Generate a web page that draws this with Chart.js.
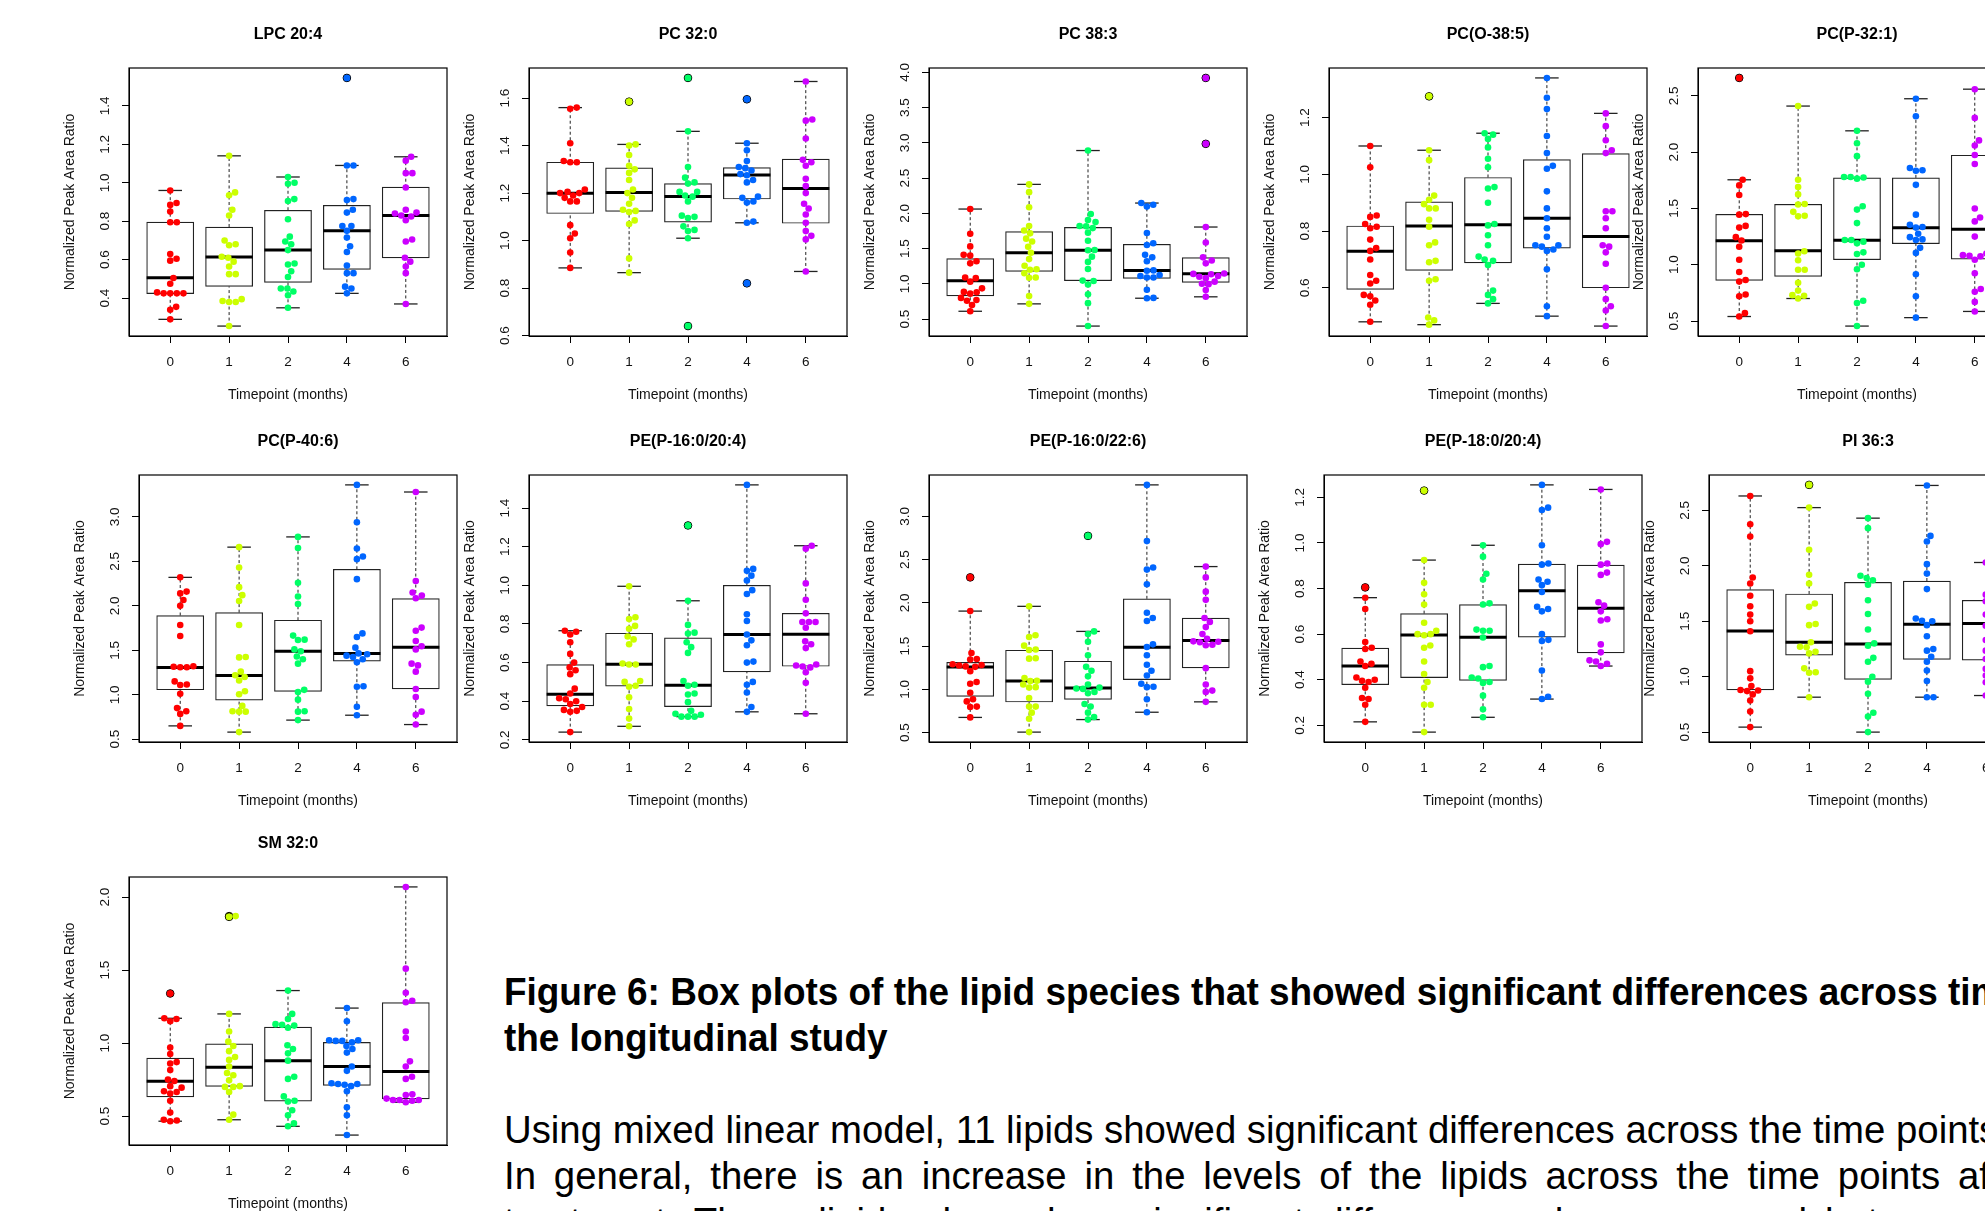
<!DOCTYPE html>
<html lang="en">
<head>
<meta charset="UTF-8">
<title>Figure 6 - lipid species box plots</title>
<script src="https://cdn.jsdelivr.net/npm/chart.js"></script>
<style>
    body {
        margin: 0;
        background: #fff;
    }
    #page {
        position: relative;
        width: 1985px;
        height: 1211px;
        overflow: hidden;
        background: #fff;
    }
    #page canvas {
        position: absolute;
    }
    .text {
        position: absolute;
        left: 504px;
        white-space: nowrap;
        font-family: "Liberation Sans", Arial, sans-serif;
        font-size: 38px;
        line-height: 46px;
        color: #000;
        transform-origin: 0 0;
    }
    .caption {
        font-weight: bold;
    }
</style>
</head>
<body>
<div id="page">
    <div class="text caption" id="cap1" style="top:969px"><span>Figure 6: Box plots of the lipid species that showed significant differences across </span>time points in</div>
    <div class="text caption" id="cap2" style="top:1015px">the longitudinal study</div>
    <div class="text" id="body1" style="top:1107px"><span>Using mixed linear model, 11 lipids showed significant differences across the time </span>points.</div>
    <div class="text" id="body2" style="top:1153px"><span>In general, there is an increase in the levels of the lipids across the time points </span>after</div>
    <div class="text" id="body3" style="top:1199px">treatment. These lipids showed no significant differences when compared between the</div>
</div>

<script>
    const timepoints = ['0', '1', '2', '4', '6'];
    const groupColors = ['#FF0000', '#CCFF00', '#00FF66', '#0066FF', '#CC00FF'];

    const lipidNames = ['LPC 20:4', 'PC 32:0', 'PC 38:3', 'PC(O-38:5)', 'PC(P-32:1)',
        'PC(P-40:6)', 'PE(P-16:0/20:4)', 'PE(P-16:0/22:6)', 'PE(P-18:0/20:4)', 'PI 36:3', 'SM 32:0'];
    const tickSteps = [0.2, 0.2, 0.5, 0.2, 0.5, 0.5, 0.2, 0.5, 0.2, 0.5, 0.5];

    // points: one list per timepoint (0, 1, 2, 4, 6 months)
    // boxes: [lower whisker, Q1, median, Q3, upper whisker] per timepoint
    const lpc204 = [
        [0.96, 0.895, 0.885, 0.85, 0.795, 0.795, 0.63, 0.605, 0.595, 0.505, 0.475, 0.43, 0.425, 0.425, 0.425, 0.425, 0.355, 0.34, 0.29],
        [1.14, 0.95, 0.935, 0.86, 0.83, 0.70, 0.68, 0.675, 0.615, 0.61, 0.59, 0.565, 0.525, 0.525, 0.395, 0.385, 0.38, 0.38, 0.255],
        [1.03, 1.0, 0.995, 0.915, 0.905, 0.81, 0.72, 0.695, 0.68, 0.65, 0.58, 0.575, 0.54, 0.51, 0.45, 0.45, 0.435, 0.415, 0.35],
        [1.545, 1.09, 1.09, 0.915, 0.91, 0.86, 0.845, 0.775, 0.775, 0.75, 0.715, 0.67, 0.64, 0.57, 0.53, 0.53, 0.46, 0.45, 0.425],
        [1.135, 1.115, 1.05, 1.05, 0.975, 0.86, 0.845, 0.84, 0.83, 0.825, 0.805, 0.705, 0.695, 0.61, 0.59, 0.565, 0.53, 0.37]
    ];
    const lpc204Box = [
        [0.29, 0.424, 0.506, 0.795, 0.96],
        [0.255, 0.461, 0.614, 0.77, 1.14],
        [0.35, 0.482, 0.65, 0.857, 1.03],
        [0.425, 0.55, 0.75, 0.883, 1.09],
        [0.37, 0.609, 0.83, 0.977, 1.135]
    ];

    const pc320 = [
        [1.56, 1.555, 1.41, 1.335, 1.33, 1.33, 1.215, 1.205, 1.2, 1.2, 1.19, 1.18, 1.165, 1.165, 1.065, 1.03, 1.01, 0.95, 0.885],
        [1.585, 1.405, 1.40, 1.36, 1.315, 1.30, 1.285, 1.255, 1.215, 1.20, 1.18, 1.155, 1.13, 1.125, 1.12, 1.085, 1.07, 0.925, 0.865],
        [1.685, 1.46, 1.31, 1.265, 1.245, 1.24, 1.205, 1.205, 1.19, 1.185, 1.165, 1.105, 1.10, 1.095, 1.06, 1.045, 1.04, 1.01, 0.64],
        [1.595, 1.41, 1.38, 1.335, 1.31, 1.305, 1.295, 1.28, 1.275, 1.255, 1.245, 1.185, 1.18, 1.165, 1.16, 1.08, 1.075, 0.82],
        [1.67, 1.51, 1.505, 1.43, 1.34, 1.33, 1.315, 1.26, 1.23, 1.2, 1.155, 1.135, 1.11, 1.075, 1.04, 1.02, 1.005, 0.87]
    ];
    const pc320Box = [
        [0.885, 1.114, 1.199, 1.33, 1.56],
        [0.865, 1.123, 1.203, 1.306, 1.405],
        [1.01, 1.078, 1.186, 1.24, 1.46],
        [1.075, 1.175, 1.276, 1.307, 1.41],
        [0.87, 1.073, 1.219, 1.343, 1.67]
    ];

    const pc383 = [
        [2.06, 1.71, 1.53, 1.41, 1.40, 1.32, 1.29, 1.09, 1.08, 1.03, 0.935, 0.885, 0.88, 0.86, 0.80, 0.77, 0.76, 0.70, 0.61],
        [2.41, 2.30, 2.085, 1.82, 1.755, 1.715, 1.64, 1.60, 1.525, 1.44, 1.35, 1.255, 1.205, 1.20, 1.15, 1.09, 1.085, 0.825, 0.715],
        [2.89, 1.99, 1.905, 1.875, 1.82, 1.815, 1.79, 1.725, 1.61, 1.48, 1.475, 1.385, 1.31, 1.21, 1.045, 1.04, 0.99, 0.85, 0.725, 0.40],
        [2.145, 2.12, 2.095, 1.72, 1.575, 1.55, 1.41, 1.375, 1.32, 1.19, 1.185, 1.125, 1.11, 1.09, 1.09, 0.915, 0.80, 0.795],
        [3.92, 2.985, 1.805, 1.585, 1.375, 1.33, 1.29, 1.145, 1.14, 1.135, 1.11, 1.10, 1.08, 1.03, 1.0, 0.995, 0.91, 0.815]
    ];
    const pc383Box = [
        [0.61, 0.829, 1.043, 1.356, 2.06],
        [0.715, 1.176, 1.441, 1.74, 2.41],
        [0.40, 1.043, 1.474, 1.80, 2.89],
        [0.795, 1.076, 1.19, 1.56, 2.145],
        [0.815, 1.019, 1.142, 1.37, 1.805]
    ];

    const pcO385 = [
        [1.10, 1.025, 0.855, 0.85, 0.825, 0.815, 0.81, 0.77, 0.74, 0.73, 0.70, 0.645, 0.625, 0.615, 0.575, 0.57, 0.555, 0.54, 0.48],
        [1.275, 1.085, 1.05, 0.925, 0.91, 0.895, 0.88, 0.88, 0.84, 0.815, 0.76, 0.75, 0.695, 0.69, 0.63, 0.625, 0.495, 0.485, 0.47],
        [1.145, 1.14, 1.125, 1.095, 1.055, 1.025, 0.955, 0.95, 0.90, 0.825, 0.82, 0.785, 0.75, 0.71, 0.70, 0.695, 0.68, 0.59, 0.575, 0.56, 0.545],
        [1.34, 1.27, 1.23, 1.135, 1.075, 1.03, 1.02, 0.94, 0.88, 0.845, 0.81, 0.78, 0.75, 0.75, 0.745, 0.735, 0.73, 0.665, 0.535, 0.50],
        [1.215, 1.17, 1.12, 1.085, 1.075, 0.87, 0.87, 0.845, 0.81, 0.75, 0.745, 0.725, 0.685, 0.60, 0.56, 0.535, 0.52, 0.465]
    ];
    const pcO385Box = [
        [0.48, 0.594, 0.729, 0.818, 1.10],
        [0.47, 0.661, 0.818, 0.903, 1.085],
        [0.545, 0.688, 0.822, 0.989, 1.145],
        [0.50, 0.74, 0.845, 1.052, 1.34],
        [0.465, 0.60, 0.781, 1.073, 1.215]
    ];

    const pcP321 = [
        [2.66, 1.755, 1.705, 1.62, 1.45, 1.445, 1.345, 1.33, 1.245, 1.215, 1.16, 1.045, 0.935, 0.865, 0.85, 0.735, 0.72, 0.57, 0.54],
        [2.41, 1.755, 1.69, 1.625, 1.54, 1.535, 1.47, 1.435, 1.43, 1.12, 1.10, 1.04, 0.955, 0.955, 0.84, 0.77, 0.73, 0.725, 0.70],
        [2.19, 2.08, 1.965, 1.78, 1.78, 1.775, 1.765, 1.52, 1.49, 1.37, 1.22, 1.22, 1.205, 1.19, 1.11, 1.095, 1.0, 0.96, 0.68, 0.66, 0.455],
        [2.475, 2.32, 1.86, 1.84, 1.835, 1.71, 1.445, 1.355, 1.335, 1.33, 1.275, 1.245, 1.225, 1.22, 1.15, 1.105, 0.915, 0.72, 0.53],
        [2.56, 2.305, 2.105, 2.06, 1.975, 1.895, 1.50, 1.42, 1.385, 1.25, 1.10, 1.085, 1.08, 1.075, 1.045, 0.925, 0.785, 0.76, 0.67, 0.585]
    ];
    const pcP321Box = [
        [0.54, 0.861, 1.214, 1.448, 1.755],
        [0.70, 0.896, 1.125, 1.537, 2.41],
        [0.455, 1.045, 1.217, 1.772, 2.19],
        [0.53, 1.187, 1.329, 1.772, 2.475],
        [0.585, 1.05, 1.315, 1.973, 2.56]
    ];

    const pcP406 = [
        [2.32, 2.16, 2.14, 2.065, 2.0, 1.785, 1.66, 1.32, 1.315, 1.31, 1.31, 1.15, 1.115, 1.11, 1.01, 0.85, 0.815, 0.785, 0.65],
        [2.66, 2.43, 2.21, 2.12, 2.055, 1.785, 1.425, 1.42, 1.26, 1.22, 1.20, 1.16, 1.04, 1.005, 0.875, 0.815, 0.81, 0.81, 0.58],
        [2.775, 2.65, 2.26, 2.105, 2.02, 1.665, 1.62, 1.615, 1.51, 1.49, 1.43, 1.40, 1.35, 1.055, 1.03, 0.945, 0.815, 0.81, 0.715],
        [3.36, 2.94, 2.645, 2.555, 2.525, 2.30, 1.69, 1.65, 1.53, 1.465, 1.455, 1.44, 1.425, 1.40, 1.365, 1.095, 1.09, 0.865, 0.77],
        [3.28, 2.28, 2.15, 2.115, 2.085, 1.755, 1.72, 1.605, 1.545, 1.51, 1.35, 1.33, 1.26, 1.065, 0.975, 0.81, 0.775, 0.665]
    ];
    const pcP406Box = [
        [0.65, 1.056, 1.307, 1.891, 2.32],
        [0.58, 0.94, 1.217, 1.924, 2.66],
        [0.715, 1.037, 1.49, 1.838, 2.775],
        [0.77, 1.378, 1.464, 2.411, 3.36],
        [0.665, 1.067, 1.535, 2.082, 3.28]
    ];

    const peP16204 = [
        [0.765, 0.76, 0.745, 0.705, 0.645, 0.60, 0.575, 0.56, 0.54, 0.465, 0.44, 0.415, 0.41, 0.40, 0.385, 0.37, 0.355, 0.35, 0.345, 0.24],
        [0.995, 0.835, 0.825, 0.79, 0.775, 0.735, 0.72, 0.695, 0.595, 0.59, 0.59, 0.505, 0.50, 0.48, 0.475, 0.42, 0.36, 0.31, 0.27],
        [1.31, 0.92, 0.795, 0.755, 0.75, 0.705, 0.68, 0.65, 0.505, 0.485, 0.48, 0.44, 0.435, 0.395, 0.35, 0.335, 0.33, 0.32, 0.32, 0.32],
        [1.52, 1.085, 1.075, 1.05, 1.025, 0.975, 0.955, 0.85, 0.815, 0.745, 0.715, 0.69, 0.605, 0.60, 0.50, 0.485, 0.445, 0.37, 0.345],
        [1.205, 1.19, 1.01, 0.925, 0.855, 0.81, 0.81, 0.81, 0.78, 0.71, 0.695, 0.675, 0.59, 0.585, 0.58, 0.575, 0.55, 0.495, 0.335]
    ];
    const peP16204Box = [
        [0.24, 0.376, 0.436, 0.59, 0.765],
        [0.27, 0.478, 0.591, 0.752, 0.995],
        [0.32, 0.372, 0.483, 0.728, 0.92],
        [0.345, 0.552, 0.745, 1.0, 1.52],
        [0.335, 0.581, 0.747, 0.855, 1.205]
    ];

    const peP16226 = [
        [2.295, 1.905, 1.42, 1.35, 1.345, 1.29, 1.28, 1.275, 1.265, 1.26, 1.21, 1.085, 1.065, 0.96, 0.885, 0.86, 0.80, 0.795, 0.675],
        [1.96, 1.625, 1.605, 1.505, 1.46, 1.455, 1.36, 1.355, 1.13, 1.10, 1.095, 1.055, 1.025, 1.02, 0.90, 0.80, 0.80, 0.73, 0.66, 0.505],
        [2.775, 1.67, 1.64, 1.55, 1.395, 1.26, 1.215, 1.15, 1.055, 1.02, 1.01, 1.005, 0.97, 0.955, 0.83, 0.80, 0.73, 0.68, 0.65],
        [3.365, 2.715, 2.41, 2.385, 2.215, 1.885, 1.825, 1.79, 1.52, 1.49, 1.395, 1.285, 1.215, 1.16, 1.065, 1.03, 1.025, 0.885, 0.735],
        [2.42, 2.295, 2.13, 2.035, 1.825, 1.78, 1.72, 1.64, 1.585, 1.555, 1.55, 1.545, 1.515, 1.51, 1.245, 1.055, 0.985, 0.97, 0.855]
    ];
    const peP16226Box = [
        [0.675, 0.919, 1.259, 1.313, 1.905],
        [0.505, 0.853, 1.097, 1.452, 1.96],
        [0.65, 0.884, 1.015, 1.325, 1.67],
        [0.735, 1.112, 1.487, 2.047, 3.365],
        [0.855, 1.247, 1.564, 1.823, 2.42]
    ];

    const peP18204 = [
        [0.805, 0.76, 0.71, 0.565, 0.54, 0.535, 0.48, 0.47, 0.46, 0.41, 0.40, 0.395, 0.39, 0.365, 0.32, 0.315, 0.29, 0.215],
        [1.23, 0.925, 0.825, 0.775, 0.73, 0.65, 0.615, 0.60, 0.60, 0.595, 0.55, 0.54, 0.48, 0.425, 0.39, 0.365, 0.29, 0.29, 0.17],
        [0.99, 0.94, 0.865, 0.84, 0.735, 0.73, 0.62, 0.615, 0.615, 0.585, 0.46, 0.455, 0.41, 0.405, 0.39, 0.385, 0.33, 0.27, 0.235],
        [1.255, 1.155, 1.145, 0.99, 0.91, 0.905, 0.84, 0.83, 0.815, 0.785, 0.72, 0.71, 0.70, 0.60, 0.575, 0.57, 0.44, 0.325, 0.315],
        [1.235, 1.005, 0.995, 0.91, 0.905, 0.87, 0.86, 0.74, 0.725, 0.70, 0.665, 0.66, 0.555, 0.52, 0.485, 0.48, 0.47, 0.46]
    ];
    const peP18204Box = [
        [0.215, 0.378, 0.46, 0.539, 0.76],
        [0.17, 0.409, 0.596, 0.69, 0.925],
        [0.235, 0.397, 0.586, 0.73, 0.99],
        [0.315, 0.587, 0.79, 0.907, 1.255],
        [0.46, 0.518, 0.714, 0.903, 1.235]
    ];

    const pi363 = [
        [2.63, 2.375, 2.265, 1.895, 1.84, 1.73, 1.635, 1.56, 1.50, 1.41, 1.05, 0.985, 0.915, 0.88, 0.875, 0.87, 0.84, 0.785, 0.685, 0.545],
        [2.73, 2.525, 2.145, 1.92, 1.84, 1.66, 1.63, 1.475, 1.465, 1.31, 1.27, 1.265, 1.225, 1.21, 1.075, 1.04, 1.035, 0.815],
        [2.43, 2.34, 1.91, 1.89, 1.87, 1.83, 1.69, 1.565, 1.425, 1.30, 1.28, 1.17, 1.135, 1.0, 0.955, 0.845, 0.675, 0.64, 0.50],
        [2.725, 2.27, 2.22, 2.015, 1.93, 1.79, 1.525, 1.505, 1.50, 1.465, 1.365, 1.25, 1.235, 1.18, 1.135, 1.055, 0.96, 0.815, 0.815],
        [2.03, 1.74, 1.69, 1.68, 1.585, 1.56, 1.48, 1.46, 1.33, 1.24, 1.235, 1.16, 1.08, 1.07, 1.01, 0.95, 0.83]
    ];
    const pi363Box = [
        [0.545, 0.88, 1.412, 1.785, 2.63],
        [0.815, 1.195, 1.31, 1.746, 2.525],
        [0.50, 0.976, 1.295, 1.851, 2.43],
        [0.815, 1.156, 1.472, 1.863, 2.725],
        [0.83, 1.15, 1.48, 1.689, 2.03]
    ];

    const sm320 = [
        [1.34, 1.17, 1.165, 1.15, 0.97, 0.925, 0.87, 0.86, 0.815, 0.75, 0.74, 0.705, 0.695, 0.67, 0.665, 0.655, 0.605, 0.525, 0.475, 0.47, 0.465],
        [1.87, 1.865, 1.20, 1.08, 1.01, 0.98, 0.945, 0.905, 0.885, 0.84, 0.795, 0.78, 0.745, 0.705, 0.70, 0.70, 0.665, 0.51, 0.475],
        [1.36, 1.20, 1.165, 1.13, 1.125, 1.12, 1.105, 0.985, 0.96, 0.93, 0.88, 0.77, 0.755, 0.635, 0.605, 0.60, 0.54, 0.505, 0.45, 0.43],
        [1.24, 1.15, 1.02, 1.02, 1.015, 1.015, 1.005, 0.98, 0.96, 0.935, 0.84, 0.81, 0.725, 0.72, 0.72, 0.715, 0.705, 0.67, 0.56, 0.505, 0.37],
        [2.07, 1.51, 1.345, 1.29, 1.28, 1.08, 1.035, 0.875, 0.84, 0.77, 0.755, 0.65, 0.645, 0.62, 0.61, 0.61, 0.61, 0.605, 0.595]
    ];
    const sm320Box = [
        [0.465, 0.632, 0.739, 0.897, 1.17],
        [0.475, 0.703, 0.835, 0.995, 1.20],
        [0.43, 0.602, 0.879, 1.11, 1.36],
        [0.37, 0.71, 0.84, 1.005, 1.24],
        [0.595, 0.618, 0.806, 1.277, 2.07]
    ];

    const pointSets = [lpc204, pc320, pc383, pcO385, pcP321, pcP406, peP16204, peP16226, peP18204, pi363, sm320];
    const boxSets = [lpc204Box, pc320Box, pc383Box, pcO385Box, pcP321Box, pcP406Box, peP16204Box, peP16226Box, peP18204Box, pi363Box, sm320Box];

    // top-left corner of each plot area on the page, and its height
    const panelSpots = [
        {x: 129, y: 68, h: 268}, {x: 529, y: 68, h: 268}, {x: 929, y: 68, h: 268}, {x: 1329, y: 68, h: 268}, {x: 1698, y: 68, h: 268},
        {x: 139, y: 475, h: 267}, {x: 529, y: 475, h: 267}, {x: 929, y: 475, h: 267}, {x: 1324, y: 475, h: 267}, {x: 1709, y: 475, h: 267},
        {x: 129, y: 877, h: 268}
    ];

    const PLOT_W = 318;
    const PAD_L = 90, PAD_R = 90, PAD_T = 60, PAD_B = 75;
    const X_MIN = 0.3, X_MAX = 5.7;
    const UNIT_PX = PLOT_W / (X_MAX - X_MIN);
    const BOX_W = 0.8 * UNIT_PX;
    const DOT_GAP = 6.6;

    Chart.defaults.font.family = '"Liberation Sans", Arial, Helvetica, sans-serif';
    Chart.defaults.color = '#111';

    // beeswarm-style layout: lowest values first, each dot as close to the centre as it fits
    function swarmOffsets(values, pxX, pxY, d) {
        const order = values.map((v, i) => i).sort((a, b) => values[a] - values[b]);
        const placed = [];
        const offsets = [];
        order.forEach(i => {
            const yy = values[i] * pxY;
            const near = placed.filter(p => Math.abs(p.y - yy) < d);
            const cands = [0];
            near.forEach(p => {
                const dx = Math.sqrt(d * d - (p.y - yy) ** 2);
                cands.push(p.x + dx, p.x - dx);
            });
            cands.sort((a, b) => Math.abs(a) - Math.abs(b));
            const xx = cands.find(c => near.every(p => (p.x - c) ** 2 + (p.y - yy) ** 2 > d * d - 0.5)) ?? 0;
            placed.push({x: xx, y: yy});
            offsets[i] = xx / pxX;
        });
        return offsets;
    }

    function segment(ctx, x1, y1, x2, y2) {
        ctx.beginPath();
        ctx.moveTo(x1, y1);
        ctx.lineTo(x2, y2);
        ctx.stroke();
    }

    // frame, whiskers, staples and medians drawn from the scales
    const boxParts = {
        id: 'boxParts',
        beforeDatasetsDraw(chart, args, opts) {
            const {ctx, chartArea: a, scales: {x, y}} = chart;
            ctx.save();
            ctx.strokeStyle = '#000';
            ctx.lineWidth = 1.2;
            ctx.strokeRect(a.left, a.top, a.width, a.height);
            const half = BOX_W / 4;
            opts.stats.forEach((s, k) => {
                const cx = x.getPixelForValue(k + 1);
                ctx.strokeStyle = '#222';
                ctx.lineWidth = 1;
                ctx.setLineDash([3, 2.5]);
                segment(ctx, cx, y.getPixelForValue(s[0]), cx, y.getPixelForValue(s[1]));
                segment(ctx, cx, y.getPixelForValue(s[3]), cx, y.getPixelForValue(s[4]));
                ctx.setLineDash([]);
                ctx.lineWidth = 1.3;
                segment(ctx, cx - half, y.getPixelForValue(s[0]), cx + half, y.getPixelForValue(s[0]));
                segment(ctx, cx - half, y.getPixelForValue(s[4]), cx + half, y.getPixelForValue(s[4]));
            });
            ctx.restore();
        },
        afterDatasetDraw(chart, args, opts) {
            if (args.meta.type !== 'bar') return;
            const {ctx, scales: {x, y}} = chart;
            ctx.save();
            ctx.strokeStyle = '#000';
            ctx.lineWidth = 3;
            opts.stats.forEach((s, k) => {
                const cx = x.getPixelForValue(k + 1);
                const my = y.getPixelForValue(s[2]);
                segment(ctx, cx - BOX_W / 2, my, cx + BOX_W / 2, my);
            });
            ctx.restore();
        }
    };

    const page = document.getElementById('page');

    pointSets.forEach((groups, p) => {
        const spot = panelSpots[p];
        const stats = boxSets[p];
        const all = groups.flat();
        const lo = Math.min(...all), hi = Math.max(...all);
        const yMin = lo - 0.04 * (hi - lo);
        const yMax = hi + 0.04 * (hi - lo);
        const pxY = spot.h / (yMax - yMin);

        const canvas = document.createElement('canvas');
        const w = PAD_L + PLOT_W + PAD_R, h = PAD_T + spot.h + PAD_B;
        canvas.width = w;
        canvas.height = h;
        canvas.style.width = w + 'px';
        canvas.style.height = h + 'px';
        canvas.style.left = (spot.x - PAD_L) + 'px';
        canvas.style.top = (spot.y - PAD_T) + 'px';
        page.appendChild(canvas);

        // values outside the whiskers get the outlined boxplot circle
        const tol = 0.005 * (hi - lo);
        const outliers = [], outlierColors = [];
        groups.forEach((vals, k) => vals.forEach(v => {
            if (v > stats[k][4] + tol || v < stats[k][0] - tol) {
                outliers.push({x: k + 1, y: v});
                outlierColors.push(groupColors[k]);
            }
        }));

        const dotSets = groups.map((vals, k) => {
            const off = swarmOffsets(vals, UNIT_PX, pxY, DOT_GAP);
            return {
                type: 'scatter',
                data: vals.map((v, j) => ({x: k + 1 + off[j], y: v})),
                pointRadius: 3.3,
                pointBackgroundColor: groupColors[k],
                pointBorderWidth: 0,
                order: 1,
                clip: false
            };
        });

        new Chart(canvas, {
            type: 'scatter',
            data: {
                datasets: [
                    {
                        type: 'bar',
                        data: stats.map((s, k) => ({x: k + 1, y: [s[1], s[3]]})),
                        backgroundColor: '#fff',
                        borderColor: '#222',
                        borderWidth: 1.2,
                        borderSkipped: false,
                        barThickness: BOX_W,
                        order: 3
                    },
                    {
                        type: 'scatter',
                        data: outliers,
                        pointRadius: 3.8,
                        pointBackgroundColor: outlierColors,
                        pointBorderColor: '#000',
                        pointBorderWidth: 1,
                        order: 2,
                        clip: false
                    },
                    ...dotSets
                ]
            },
            options: {
                responsive: false,
                maintainAspectRatio: false,
                animation: false,
                events: [],
                layout: {padding: {left: 0, right: PAD_R, top: 0, bottom: 0}},
                plugins: {
                    legend: {display: false},
                    tooltip: {enabled: false},
                    title: {
                        display: true,
                        text: lipidNames[p],
                        fullSize: false,
                        color: '#000',
                        font: {size: 16, weight: 'bold'},
                        padding: {top: 17.4, bottom: 23.4}
                    },
                    boxParts: {stats}
                },
                scales: {
                    x: {
                        type: 'linear',
                        min: X_MIN,
                        max: X_MAX,
                        offset: false,
                        afterBuildTicks: scale => { scale.ticks = [1, 2, 3, 4, 5].map(v => ({value: v})); },
                        afterFit: scale => { scale.height = PAD_B; },
                        ticks: {
                            autoSkip: false,
                            maxRotation: 0,
                            padding: 11,
                            color: '#111',
                            font: {size: 13.5},
                            callback: v => timepoints[v - 1]
                        },
                        grid: {drawOnChartArea: false, offset: false, tickLength: 7, tickColor: '#000', tickWidth: 1},
                        border: {color: '#000', width: 1},
                        title: {
                            display: true,
                            text: 'Timepoint (months)',
                            color: '#111',
                            font: {size: 14},
                            padding: {top: 0, bottom: 7.6}
                        }
                    },
                    y: {
                        type: 'linear',
                        min: yMin,
                        max: yMax,
                        beginAtZero: false,
                        afterFit: scale => { scale.width = PAD_L; },
                        ticks: {
                            stepSize: tickSteps[p],
                            includeBounds: false,
                            autoSkip: false,
                            minRotation: 90,
                            maxRotation: 90,
                            crossAlign: 'center',
                            padding: 7.6,
                            color: '#111',
                            font: {size: 13.5},
                            callback: v => v.toFixed(1)
                        },
                        grid: {drawOnChartArea: false, tickLength: 7, tickColor: '#000', tickWidth: 1},
                        border: {color: '#000', width: 1},
                        title: {
                            display: true,
                            text: 'Normalized Peak Area Ratio',
                            color: '#111',
                            font: {size: 14},
                            padding: {top: 22.6, bottom: 0}
                        }
                    }
                }
            },
            plugins: [boxParts]
        });
    });

    // squeeze the text lines so the words land where they sit in the figure
    function prefixWidth(id) {
        return document.querySelector('#' + id + ' span').getBoundingClientRect().width;
    }
    const capScale = (1948 - 504) / prefixWidth('cap1');
    const bodyScale = (1896 - 504) / prefixWidth('body1');
    ['cap1', 'cap2'].forEach(id => { document.getElementById(id).style.transform = 'scaleX(' + capScale + ')'; });
    const gap2 = ((1958 - 504) / bodyScale - prefixWidth('body2')) / 16;
    ['body1', 'body2', 'body3'].forEach(id => {
        const el = document.getElementById(id);
        el.style.transform = 'scaleX(' + bodyScale + ')';
        if (id !== 'body1') el.style.wordSpacing = gap2 + 'px';
    });
</script>
</body>
</html>
